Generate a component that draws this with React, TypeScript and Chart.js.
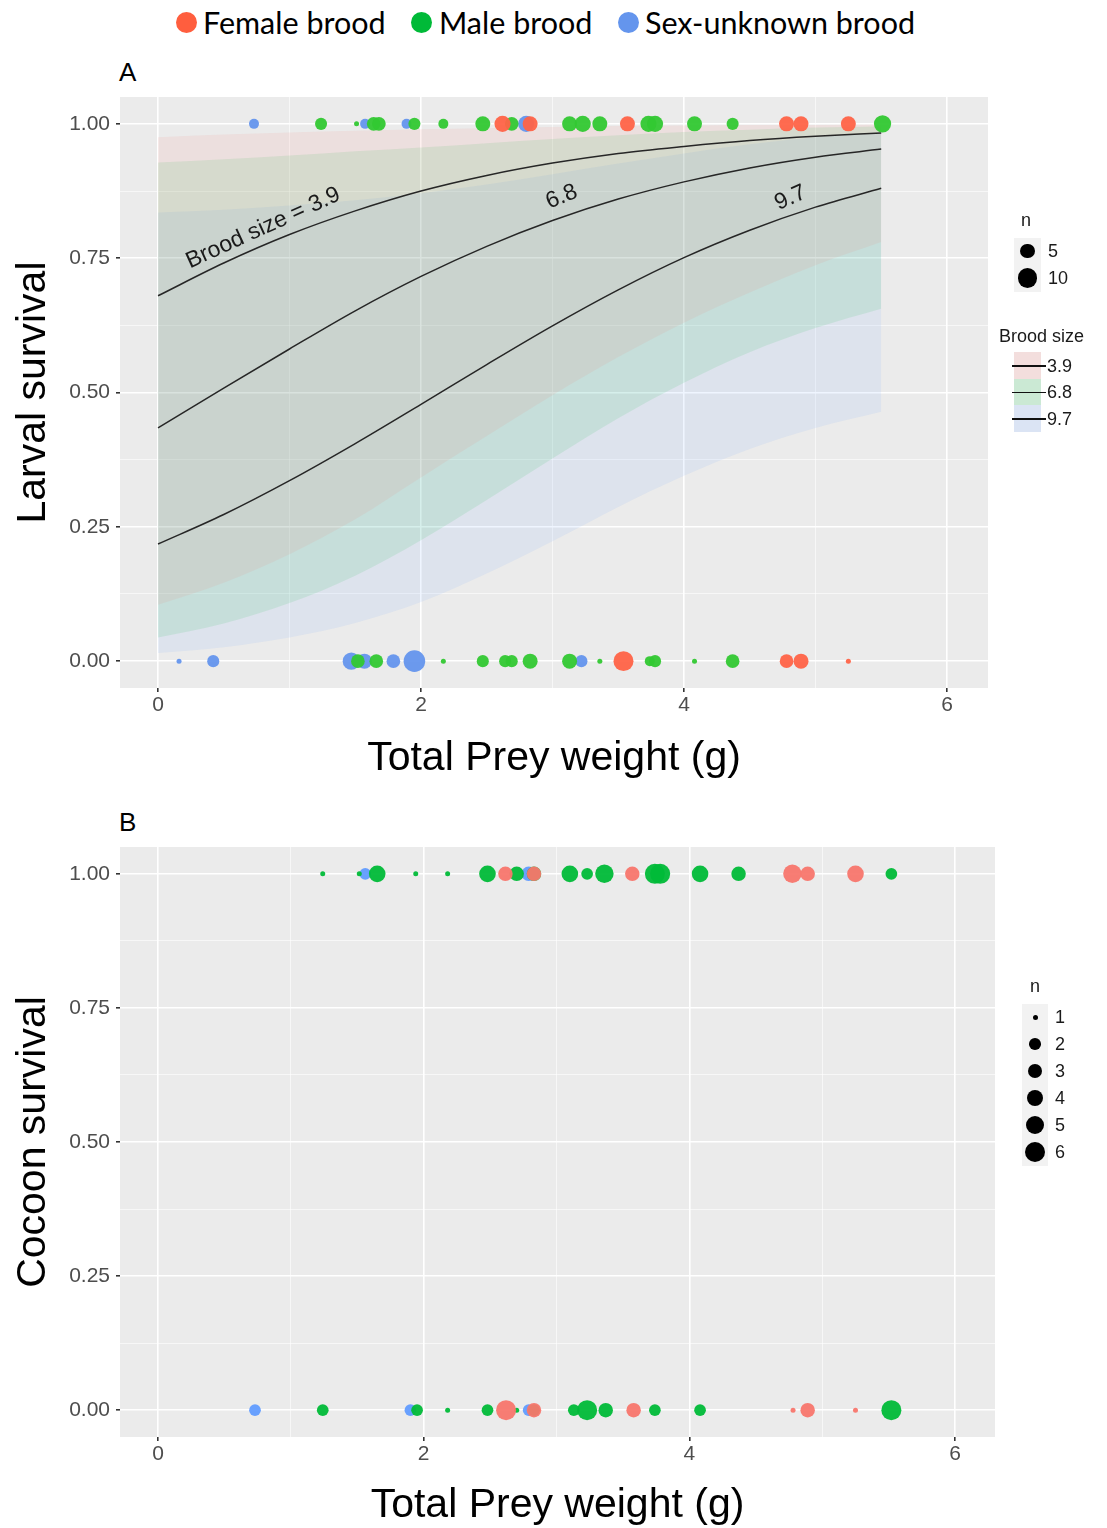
import React, { useEffect, useRef } from 'react';
import { Chart, registerables } from 'chart.js';

Chart.register(...registerables);

const FONT = "'Liberation Sans', Arial, Helvetica, sans-serif";

// ---------- Panel A: fitted survival curves by brood size ----------
const PREY_GRID = [0, 0.5, 1, 1.5, 2, 2.5, 3, 3.5, 4, 4.5, 5, 5.5];
const BROOD_SIZES = ['3.9', '6.8', '9.7'];
const FIT_3_9 = [0.680, 0.741, 0.794, 0.838, 0.875, 0.904, 0.927, 0.945, 0.958, 0.969, 0.977, 0.983];
const FIT_6_8 = [0.434, 0.508, 0.581, 0.652, 0.716, 0.772, 0.820, 0.860, 0.892, 0.918, 0.938, 0.953];
const FIT_9_7 = [0.218, 0.273, 0.336, 0.405, 0.478, 0.552, 0.624, 0.691, 0.751, 0.802, 0.845, 0.880];
const LOW_3_9 = [0.105, 0.146, 0.199, 0.264, 0.342, 0.419, 0.495, 0.566, 0.630, 0.686, 0.737, 0.780];
const HIGH_3_9 = [0.975, 0.980, 0.984, 0.987, 0.990, 0.992, 0.994, 0.996, 0.997, 0.998, 0.998, 0.999];
const LOW_6_8 = [0.044, 0.070, 0.108, 0.159, 0.225, 0.300, 0.377, 0.452, 0.518, 0.575, 0.620, 0.656];
const HIGH_6_8 = [0.928, 0.934, 0.941, 0.949, 0.956, 0.964, 0.972, 0.979, 0.985, 0.989, 0.993, 0.995];
const LOW_9_7 = [0.015, 0.026, 0.044, 0.071, 0.110, 0.163, 0.223, 0.287, 0.345, 0.395, 0.434, 0.464];
const HIGH_9_7 = [0.835, 0.840, 0.848, 0.858, 0.871, 0.887, 0.906, 0.926, 0.945, 0.962, 0.975, 0.984];

// ---------- Panel A observations: [prey weight (g), larval survival, n] ----------
type Row = [number, number, number];
const LARVAL_FEMALE: Row[] = [
  [2.62, 1, 6], [2.83, 1, 5], [3.57, 1, 5], [4.78, 1, 5], [4.89, 1, 5], [5.25, 1, 5],
  [3.54, 0, 10], [4.78, 0, 4], [4.89, 0, 5], [5.25, 0, 1],
];
const LARVAL_MALE: Row[] = [
  [1.24, 1, 3], [1.51, 1, 1], [1.64, 1, 4], [1.68, 1, 4], [1.95, 1, 3], [2.17, 1, 2], [2.47, 1, 5],
  [2.69, 1, 4], [3.13, 1, 5], [3.23, 1, 6], [3.36, 1, 5], [3.73, 1, 6], [3.78, 1, 6], [4.08, 1, 5],
  [4.37, 1, 3], [5.51, 1, 7],
  [1.52, 0, 4], [1.66, 0, 4], [2.17, 0, 1], [2.47, 0, 3], [2.64, 0, 3], [2.69, 0, 3], [2.83, 0, 5],
  [3.13, 0, 5], [3.36, 0, 1], [3.74, 0, 2], [3.78, 0, 3], [4.08, 0, 1], [4.37, 0, 4],
];
const LARVAL_UNKNOWN: Row[] = [
  [0.73, 1, 2], [1.575, 1, 2], [1.89, 1, 2], [2.80, 1, 6],
  [0.16, 0, 1], [0.42, 0, 3], [1.47, 0, 7], [1.57, 0, 5], [1.79, 0, 4], [1.95, 0, 12], [3.22, 0, 3],
];

// ---------- Panel B observations: [prey weight (g), cocoon survival, n] ----------
const COCOON_FEMALE: Row[] = [
  [2.615, 1, 3], [2.83, 1, 3], [3.57, 1, 3], [4.775, 1, 5], [4.89, 1, 3], [5.25, 1, 4],
  [2.62, 0, 6], [2.83, 0, 3], [3.58, 0, 3], [4.78, 0, 1], [4.89, 0, 3], [5.25, 0, 1],
];
const COCOON_MALE: Row[] = [
  [1.24, 1, 1], [1.515, 1, 1], [1.65, 1, 4], [1.94, 1, 1], [2.18, 1, 1], [2.48, 1, 4], [2.70, 1, 3],
  [2.83, 1, 3], [3.10, 1, 4], [3.23, 1, 2], [3.36, 1, 5], [3.74, 1, 6], [3.78, 1, 6], [4.08, 1, 4],
  [4.37, 1, 3], [5.52, 1, 2],
  [1.24, 0, 2], [1.95, 0, 2], [2.18, 0, 1], [2.48, 0, 2], [2.70, 0, 1], [2.83, 0, 2], [3.13, 0, 2],
  [3.23, 0, 6], [3.37, 0, 3], [3.74, 0, 2], [4.08, 0, 2], [5.52, 0, 6],
];
const COCOON_UNKNOWN: Row[] = [
  [1.56, 1, 2], [2.79, 1, 3],
  [0.73, 0, 2], [1.90, 0, 2], [2.79, 0, 2],
];

const X_TICKS = [0, 1, 2, 3, 4, 5, 6];
const Y_TICKS = [0, 0.125, 0.25, 0.375, 0.5, 0.625, 0.75, 0.875, 1];
const LEGEND_N_A = [5, 10];
const LEGEND_N_B = [1, 2, 3, 4, 5, 6];
const GROUPS = ['Female brood', 'Male brood', 'Sex-unknown brood'];

// ---------- styles ----------
const COLORS_A = ['rgba(255,99,71,0.95)', 'rgba(50,200,50,0.95)', 'rgba(100,149,237,0.95)'];
const COLORS_B = ['rgba(248,118,109,0.95)', 'rgba(0,186,56,0.95)', 'rgba(97,156,255,0.95)'];
const LEGEND_TOP_COLORS = ['#FF5E3E', '#00BA38', '#6495ED'];
const RIBBON_COLORS = ['rgba(248,118,109,0.10)', 'rgba(0,186,56,0.10)', 'rgba(97,156,255,0.10)'];
const PANEL_BG = '#EBEBEB';

const diamA = (n: number) => 5 * (1 + 3.6 * Math.sqrt((n - 1) / 13));
const diamB = (n: number) => 5 * (1 + 3.0 * Math.sqrt((n - 1) / 5));

const toXY = (xs: number[], ys: number[]) => xs.map((x, i) => ({ x, y: ys[i] }));
const toPts = (rows: Row[]) => rows.map(([x, y, n]) => ({ x, y, n }));
const isMult = (v: number, step: number) => Math.abs(v / step - Math.round(v / step)) < 1e-6;

const bgPlugin = {
  id: 'panelBg',
  beforeDraw(chart: any) {
    const { ctx, chartArea: a } = chart;
    ctx.save();
    ctx.fillStyle = PANEL_BG;
    ctx.fillRect(a.left, a.top, a.right - a.left, a.bottom - a.top);
    ctx.restore();
  },
};

const curveLabelPlugin = {
  id: 'curveLabels',
  afterDatasetsDraw(chart: any) {
    const items = chart.options.plugins?.curveLabels?.items;
    if (!items) return;
    const { ctx } = chart;
    const xs = chart.scales.x;
    const ys = chart.scales.y;
    ctx.save();
    ctx.font = `23px ${FONT}`;
    ctx.fillStyle = '#1A1A1A';
    ctx.textAlign = 'center';
    ctx.textBaseline = 'middle';
    for (const it of items) {
      ctx.save();
      ctx.translate(xs.getPixelForValue(it.x), ys.getPixelForValue(it.y));
      ctx.rotate((it.angle * Math.PI) / 180);
      ctx.fillText(it.text, 0, 0);
      ctx.restore();
    }
    ctx.restore();
  },
};

function buildOptions(p: {
  xMin: number; xMax: number; xAxisH: number; xTitlePad: number; yTitle: string; rightPad: number; labels?: any[];
}) {
  const tickFont = { family: FONT, size: 21 };
  return {
    animation: false,
    responsive: false,
    events: [],
    layout: { padding: { left: 0, right: p.rightPad, top: 52, bottom: 0 } },
    plugins: {
      legend: { display: false },
      tooltip: { enabled: false },
      curveLabels: { items: p.labels },
    },
    scales: {
      x: {
        type: 'linear',
        min: p.xMin,
        max: p.xMax,
        afterBuildTicks: (s: any) => { s.ticks = X_TICKS.map((v) => ({ value: v })); },
        afterFit: (s: any) => { s.height = p.xAxisH; },
        border: { display: false },
        grid: {
          color: (c: any) => (c.tick && isMult(c.tick.value, 2) ? '#FFFFFF' : 'rgba(255,255,255,0.6)'),
          lineWidth: (c: any) => (c.tick && isMult(c.tick.value, 2) ? 1.6 : 1),
          drawTicks: true,
          tickLength: 4,
          tickColor: (c: any) => (c.tick && isMult(c.tick.value, 2) ? '#333333' : 'rgba(0,0,0,0)'),
        },
        ticks: {
          autoSkip: false, maxRotation: 0, padding: 1, color: '#4D4D4D', font: tickFont,
          callback: (v: any) => (isMult(v, 2) ? String(v) : ''),
        },
        title: {
          display: true, text: 'Total Prey weight (g)', color: '#000000',
          font: { family: FONT, size: 41 }, padding: { top: 0, bottom: p.xTitlePad },
        },
      },
      y: {
        type: 'linear',
        min: -0.05,
        max: 1.05,
        afterBuildTicks: (s: any) => { s.ticks = Y_TICKS.map((v) => ({ value: v })); },
        afterFit: (s: any) => { s.width = 120; },
        border: { display: false },
        grid: {
          color: (c: any) => (c.tick && isMult(c.tick.value, 0.25) ? '#FFFFFF' : 'rgba(255,255,255,0.6)'),
          lineWidth: (c: any) => (c.tick && isMult(c.tick.value, 0.25) ? 1.6 : 1),
          drawTicks: true,
          tickLength: 4,
          tickColor: (c: any) => (c.tick && isMult(c.tick.value, 0.25) ? '#333333' : 'rgba(0,0,0,0)'),
        },
        ticks: {
          autoSkip: false, padding: 6, color: '#4D4D4D', font: tickFont,
          callback: (v: any) => (isMult(v, 0.25) ? Number(v).toFixed(2) : ''),
        },
        title: {
          display: true, text: p.yTitle, color: '#000000',
          font: { family: FONT, size: 41 }, padding: { top: 9, bottom: 0 },
        },
      },
    },
  };
}

function pointSets(groups: Row[][], colors: string[], diam: (n: number) => number) {
  return groups.map((rows, i) => ({
    data: toPts(rows),
    showLine: false,
    pointRadius: (c: any) => (c.raw ? diam(c.raw.n) / 2 : 0),
    pointBackgroundColor: colors[i],
    pointBorderColor: 'rgba(0,0,0,0)',
    pointBorderWidth: 0,
    order: 1 + i,
  }));
}

function ribbonSets() {
  const lows = [LOW_3_9, LOW_6_8, LOW_9_7];
  const highs = [HIGH_3_9, HIGH_6_8, HIGH_9_7];
  const out: any[] = [];
  lows.forEach((lo, i) => {
    out.push({
      data: toXY(PREY_GRID, lo), borderWidth: 0, pointRadius: 0, fill: false,
      cubicInterpolationMode: 'monotone', order: 20,
    });
    out.push({
      data: toXY(PREY_GRID, highs[i]), borderWidth: 0, pointRadius: 0, fill: '-1',
      backgroundColor: RIBBON_COLORS[i], cubicInterpolationMode: 'monotone', order: 20,
    });
  });
  return out;
}

function curveSets() {
  return [FIT_3_9, FIT_6_8, FIT_9_7].map((fit) => ({
    data: toXY(PREY_GRID, fit), borderColor: '#262626', borderWidth: 1.5, pointRadius: 0,
    fill: false, cubicInterpolationMode: 'monotone', order: 10,
  }));
}

const abs = (left: number, top: number, extra: any = {}) => ({ position: 'absolute' as const, left, top, ...extra });

export default function App() {
  const refA = useRef<HTMLCanvasElement>(null);
  const refB = useRef<HTMLCanvasElement>(null);

  useEffect(() => {
    const chartA = new Chart(refA.current as HTMLCanvasElement, {
      type: 'line',
      data: {
        datasets: [
          ...ribbonSets(),
          ...curveSets(),
          ...pointSets([LARVAL_FEMALE, LARVAL_MALE, LARVAL_UNKNOWN], COLORS_A, diamA),
        ],
      },
      options: buildOptions({
        xMin: -0.289, xMax: 6.312, xAxisH: 107, xTitlePad: 12, yTitle: 'Larval survival', rightPad: 119,
        labels: [
          { text: `Brood size = ${BROOD_SIZES[0]}`, x: 0.80, y: 0.806, angle: -24.5 },
          { text: BROOD_SIZES[1], x: 3.07, y: 0.864, angle: -22 },
          { text: BROOD_SIZES[2], x: 4.81, y: 0.862, angle: -24 },
        ],
      }) as any,
      plugins: [bgPlugin, curveLabelPlugin],
    });
    const chartB = new Chart(refB.current as HTMLCanvasElement, {
      type: 'line',
      data: {
        datasets: [...pointSets([COCOON_FEMALE, COCOON_MALE, COCOON_UNKNOWN], COLORS_B, diamB)],
      },
      options: buildOptions({
        xMin: -0.286, xMax: 6.3, xAxisH: 93, xTitlePad: 0, yTitle: 'Cocoon survival', rightPad: 112,
      }) as any,
      plugins: [bgPlugin],
    });
    return () => {
      chartA.destroy();
      chartB.destroy();
    };
  }, []);

  const topLegend = [
    { dot: 186, text: 203 },
    { dot: 421, text: 439 },
    { dot: 628, text: 645 },
  ];
  const sideFont = { fontFamily: FONT, fontSize: 18, color: '#1A1A1A', lineHeight: '20px', whiteSpace: 'nowrap' as const };
  const legendKeyBg = '#F2F2F2';

  return (
    <div style={{ position: 'absolute', left: 0, top: 0, width: 1107, height: 1528, background: '#FFFFFF', overflow: 'hidden' }}>
      {GROUPS.map((g, i) => (
        <React.Fragment key={g}>
          <div style={abs(topLegend[i].dot - 10.5, 22 - 10.5, { width: 21, height: 21, borderRadius: '50%', background: LEGEND_TOP_COLORS[i] })} />
          <div style={abs(topLegend[i].text, 22 - 18, { fontFamily: "Lato, 'Open Sans', sans-serif", fontSize: 30.5, lineHeight: '36px', color: '#000', whiteSpace: 'nowrap' })}>{g}</div>
        </React.Fragment>
      ))}

      <div style={abs(119, 72 - 15, { fontFamily: FONT, fontSize: 26, lineHeight: '30px', color: '#000' })}>A</div>
      <div style={abs(119, 822 - 15, { fontFamily: FONT, fontSize: 26, lineHeight: '30px', color: '#000' })}>B</div>

      <canvas ref={refA} width={1107} height={750} style={abs(0, 45, { display: 'block', width: 1107, height: 750 })} />
      <canvas ref={refB} width={1107} height={735} style={abs(0, 795, { display: 'block', width: 1107, height: 735 })} />

      <div style={abs(1021, 210, sideFont)}>n</div>
      <div style={abs(1014, 238, { width: 27, height: 54, background: legendKeyBg })} />
      {LEGEND_N_A.map((n, i) => {
        const d = diamA(n);
        const cy = 251 + i * 27;
        return (
          <React.Fragment key={n}>
            <div style={abs(1027.5 - d / 2, cy - d / 2, { width: d, height: d, borderRadius: '50%', background: '#000' })} />
            <div style={abs(1048, cy - 10, sideFont)}>{n}</div>
          </React.Fragment>
        );
      })}

      <div style={abs(999, 326, sideFont)}>Brood size</div>
      {BROOD_SIZES.map((b, i) => {
        const top = 352 + i * 26.5;
        return (
          <React.Fragment key={b}>
            <div style={abs(1014, top, { width: 27, height: 26.5, background: legendKeyBg })} />
            <div style={abs(1014, top, { width: 27, height: 26.5, background: RIBBON_COLORS[i].replace('0.10', '0.16') })} />
            <div style={abs(1012, top + 13, { width: 34, height: 1.6, background: '#111' })} />
            <div style={abs(1047, top + 3.5, sideFont)}>{b}</div>
          </React.Fragment>
        );
      })}

      <div style={abs(1030, 976, sideFont)}>n</div>
      <div style={abs(1022, 1004, { width: 26, height: 162, background: legendKeyBg })} />
      {LEGEND_N_B.map((n, i) => {
        const d = diamB(n);
        const cy = 1017 + i * 27;
        return (
          <React.Fragment key={n}>
            <div style={abs(1035 - d / 2, cy - d / 2, { width: d, height: d, borderRadius: '50%', background: '#000' })} />
            <div style={abs(1055, cy - 10, sideFont)}>{n}</div>
          </React.Fragment>
        );
      })}
    </div>
  );
}
